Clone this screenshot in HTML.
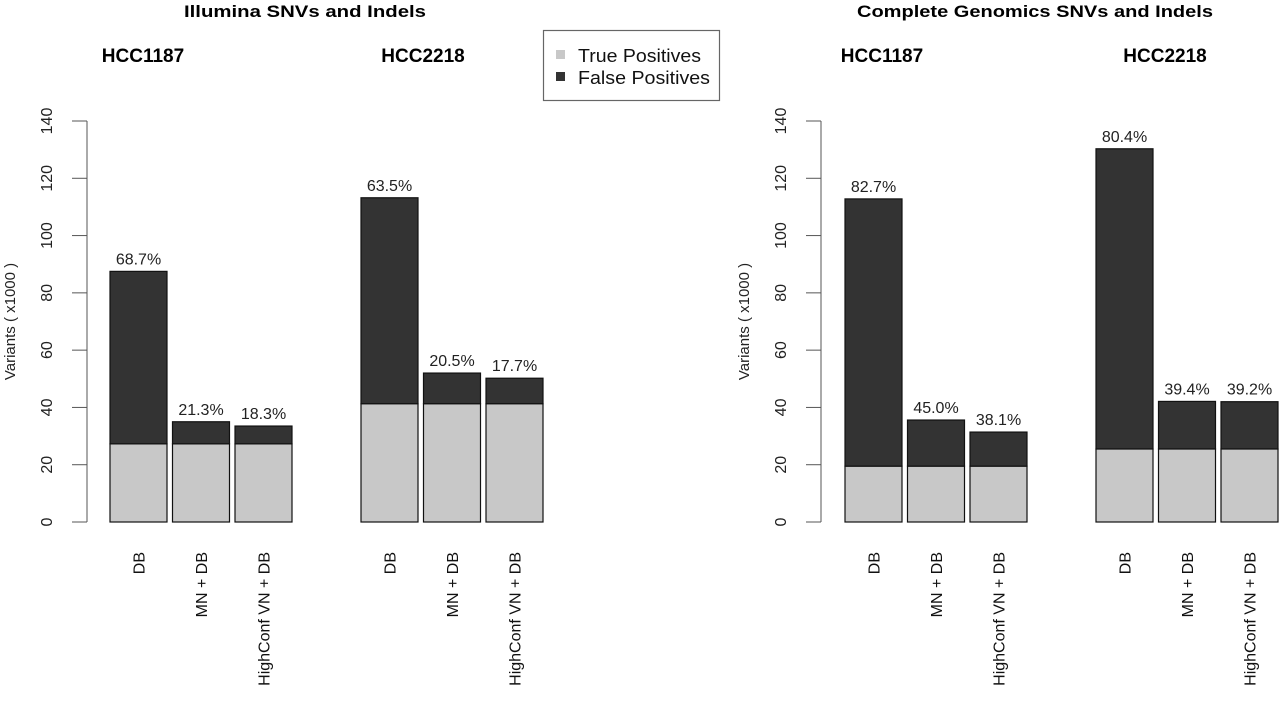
<!DOCTYPE html>
<html><head><meta charset="utf-8"><style>
body{margin:0;background:#fff}
svg{display:block;font-family:"Liberation Sans",Arial,sans-serif}
</style></head><body>
<svg id="c" width="1280" height="703"></svg>
<script>
const categories=["DB","MN + DB","HighConf VN + DB"];
const samples=["HCC1187","HCC2218"];
const illTP=[[27.3,27.3,27.3],[41.3,41.3,41.3]];
const illTotal=[[87.5,35,33.5],[113.2,52,50.2]];
const illPct=[["68.7%","21.3%","18.3%"],["63.5%","20.5%","17.7%"]];
const cgTP=[[19.5,19.5,19.5],[25.5,25.5,25.5]];
const cgTotal=[[112.8,35.6,31.4],[130.3,42.1,42]];
const cgPct=[["82.7%","45.0%","38.1%"],["80.4%","39.4%","39.2%"]];
const yTicks=[0,20,40,60,80,100,120,140];

const svg=document.getElementById('c');
const NS='http://www.w3.org/2000/svg';
function mk(t,a,txt){const e=document.createElementNS(NS,t);for(const k in a)e.setAttribute(k,a[k]);if(txt!=null)e.textContent=txt;svg.appendChild(e);return e;}
const y0=522,ppu=(522-121)/140;
function Y(v){return y0-v*ppu;}

function panel(p){
  let e=mk('text',{x:p.titleX,y:17,'text-anchor':'middle','font-size':17,'font-weight':'bold',textLength:p.titleW,lengthAdjust:'spacingAndGlyphs'},p.title);
  
  e=mk('line',{x1:p.axisX,x2:p.axisX,y1:Y(0),y2:Y(140),stroke:'#555','stroke-width':1});
  
  yTicks.forEach(t=>{
    let l=mk('line',{x1:p.axisX-15,x2:p.axisX,y1:Y(t),y2:Y(t),stroke:'#555'});
    
    let tx=mk('text',{x:0,y:0,'text-anchor':'middle','font-size':16,fill:'#222',transform:`translate(${p.axisX-35},${Y(t)}) rotate(-90)`},String(t));
    
  });
  e=mk('text',{x:0,y:0,'text-anchor':'middle','font-size':15,fill:'#222',transform:`translate(${p.axisX-72},${Y(70)}) rotate(-90)`},'Variants ( x1000 )');
  
  samples.forEach((s,si)=>{
    let h=mk('text',{x:p.subX[si],y:62,'text-anchor':'middle','font-size':19,'font-weight':'bold'},s);
    
    categories.forEach((c,ci)=>{
      const x=p.gx[si]+ci*62.5,w=57;
      const tp=p.tp[si][ci],tot=p.tot[si][ci];
      let r=mk('rect',{x:x,y:Y(tp),width:w,height:Y(0)-Y(tp),fill:'#c8c8c8',stroke:'#111','stroke-width':1.2});
      
      r=mk('rect',{x:x,y:Y(tot),width:w,height:Y(tp)-Y(tot),fill:'#333',stroke:'#111','stroke-width':1.2});
      
      let t=mk('text',{x:x+w/2,y:Y(tot)-7,'text-anchor':'middle','font-size':16,fill:'#222'},p.pct[si][ci]);
      
      t=mk('text',{x:0,y:0,'text-anchor':'end','font-size':16,fill:'#111',transform:`translate(${x+w/2+6},552) rotate(-90)`},c);
      
    });
  });
}
panel({key:'illumina',title:'Illumina SNVs and Indels',titleX:305,titleW:242,axisX:87,subX:[143,423],gx:[110,361],tp:illTP,tot:illTotal,pct:illPct});
panel({key:'cg',title:'Complete Genomics SNVs and Indels',titleX:1035,titleW:356,axisX:821,subX:[882,1165],gx:[845,1096],tp:cgTP,tot:cgTotal,pct:cgPct});

let lg=mk('rect',{x:543.5,y:30.5,width:176,height:70,fill:'#fff',stroke:'#666','stroke-width':1.2});

let s=mk('rect',{x:556,y:50,width:9,height:9,fill:'#c8c8c8'});

s=mk('rect',{x:556,y:72,width:9,height:9,fill:'#333'});

let t=mk('text',{x:578,y:62,'font-size':18,fill:'#111',textLength:123,lengthAdjust:'spacingAndGlyphs'},'True Positives');

t=mk('text',{x:578,y:84,'font-size':18,fill:'#111',textLength:132,lengthAdjust:'spacingAndGlyphs'},'False Positives');

</script>
</body></html>
